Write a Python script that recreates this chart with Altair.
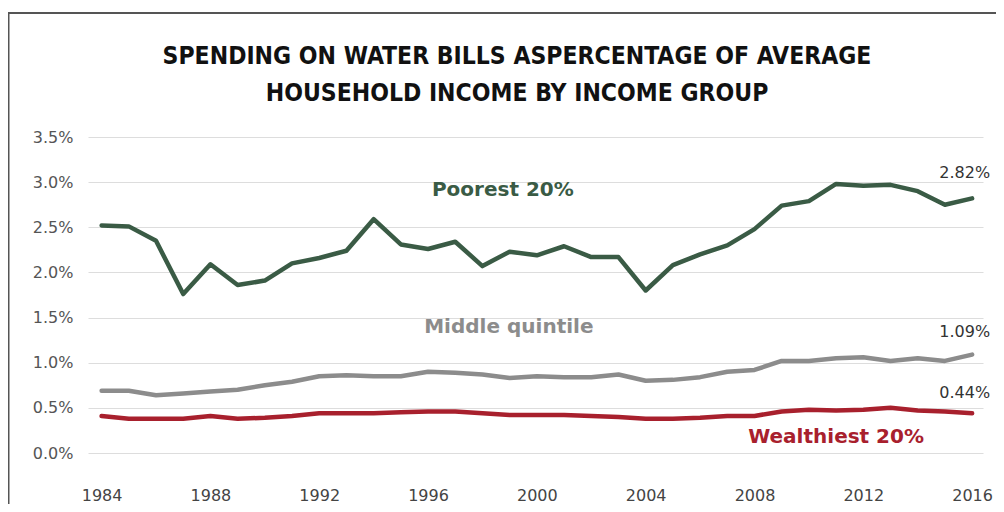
import altair as alt
import pandas as pd

years = list(range(1984, 2017))
poorest = [2.52, 2.51, 2.35, 1.76, 2.09, 1.86, 1.91, 2.10, 2.16, 2.24, 2.59, 2.31, 2.26, 2.34, 2.07,
           2.23, 2.19, 2.29, 2.17, 2.17, 1.80, 2.08, 2.20, 2.30, 2.48, 2.74, 2.79, 2.98, 2.96, 2.97,
           2.90, 2.75, 2.82]
middle = [0.69, 0.69, 0.64, 0.66, 0.68, 0.70, 0.75, 0.79, 0.85, 0.86, 0.85, 0.85, 0.90, 0.89, 0.87,
          0.83, 0.85, 0.84, 0.84, 0.87, 0.80, 0.81, 0.84, 0.90, 0.92, 1.02, 1.02, 1.05, 1.06, 1.02,
          1.05, 1.02, 1.09]
wealthiest = [0.41, 0.38, 0.38, 0.38, 0.41, 0.38, 0.39, 0.41, 0.44, 0.44, 0.44, 0.45, 0.46, 0.46, 0.44,
              0.42, 0.42, 0.42, 0.41, 0.40, 0.38, 0.38, 0.39, 0.41, 0.41, 0.46, 0.48, 0.47, 0.48, 0.50,
              0.47, 0.46, 0.44]

groups = ["Poorest 20%", "Middle quintile", "Wealthiest 20%"]
colors = ["#3a5b45", "#8c8c8c", "#a8202d"]

label_years = [1998.75, 1998.97, 2011.0]
label_values = [2.91, 1.40, 0.18]

end_labels = ["2.82%", "1.09%", "0.44%"]
end_values = [3.10, 1.34, 0.66]

title_lines = ["SPENDING ON WATER BILLS ASPERCENTAGE OF AVERAGE",
               "HOUSEHOLD INCOME BY INCOME GROUP"]

rows = []
for g, series in zip(groups, [poorest, middle, wealthiest]):
    for yr, v in zip(years, series):
        rows.append({"year": yr, "value": v, "group": g})
df = pd.DataFrame(rows)

lab_df = pd.DataFrame({"year": label_years, "value": label_values, "group": groups})
end_df = pd.DataFrame({"year": [2016] * 3, "value": end_values, "text": end_labels})

BODY = "DejaVu Sans"
TITLE_FONT = "DejaVu Sans Condensed"

xscale = alt.Scale(domain=[1983.5, 2016.4], nice=False, zero=False)
yscale = alt.Scale(domain=[0, 3.5], nice=False)
cscale = alt.Scale(domain=groups, range=colors)

lines = alt.Chart(df).mark_line(strokeWidth=4.5, strokeJoin="round", strokeCap="round").encode(
    x=alt.X("year:Q", scale=xscale,
            axis=alt.Axis(values=list(range(1984, 2017, 4)), format="d", title=None, grid=False,
                          domain=False, ticks=False, labelFont=BODY, labelFontSize=16,
                          labelColor="#444", labelPadding=34)),
    y=alt.Y("value:Q", scale=yscale,
            axis=alt.Axis(values=[0, 0.5, 1.0, 1.5, 2.0, 2.5, 3.0, 3.5],
                          labelExpr="format(datum.value, '.1f') + '%'", title=None,
                          domain=False, ticks=False, gridColor="#dddddd", gridWidth=1,
                          labelFont=BODY, labelFontSize=16, labelColor="#555", labelPadding=15)),
    color=alt.Color("group:N", scale=cscale, legend=None),
)

series_labels = alt.Chart(lab_df).mark_text(font=BODY, fontSize=20, fontWeight="bold",
                                             baseline="middle", align="center").encode(
    x=alt.X("year:Q", scale=xscale),
    y=alt.Y("value:Q", scale=yscale),
    color=alt.Color("group:N", scale=cscale, legend=None),
    text="group:N",
)

end_text = alt.Chart(end_df).mark_text(font=BODY, fontSize=16, color="#333", align="right",
                                       baseline="middle", dx=18).encode(
    x=alt.X("year:Q", scale=xscale),
    y=alt.Y("value:Q", scale=yscale),
    text="text:N",
)

title_df = pd.DataFrame({"text": title_lines, "line": [0, 1]})
title1 = alt.Chart(title_df[title_df.line == 0]).mark_text(
    font=TITLE_FONT, fontSize=24.5, fontWeight="bold",
    color="#111", align="center", baseline="middle").encode(
    x=alt.value(429), y=alt.value(-80), text="text:N")
title2 = alt.Chart(title_df[title_df.line == 1]).mark_text(
    font=TITLE_FONT, fontSize=24.5, fontWeight="bold",
    color="#111", align="center", baseline="middle").encode(
    x=alt.value(429), y=alt.value(-43), text="text:N")

border_left = alt.Chart(title_df.head(1)).mark_rule(color="#555", strokeWidth=3).encode(
    x=alt.value(-80), y=alt.value(-125), y2=alt.value(370))
border_top = alt.Chart(title_df.head(1)).mark_rule(color="#555", strokeWidth=2).encode(
    x=alt.value(-81), x2=alt.value(915), y=alt.value(-124))

chart = alt.layer(lines, series_labels, end_text, title1, title2, border_left, border_top).properties(
    width=895, height=316,
    autosize=alt.AutoSizeParams(type="none"),
    padding={"left": 80, "top": 129, "right": 13, "bottom": 51},
    background="white",
).configure_view(stroke=None)

chart.save("out.html", embed_options={"renderer": "svg", "actions": False})
